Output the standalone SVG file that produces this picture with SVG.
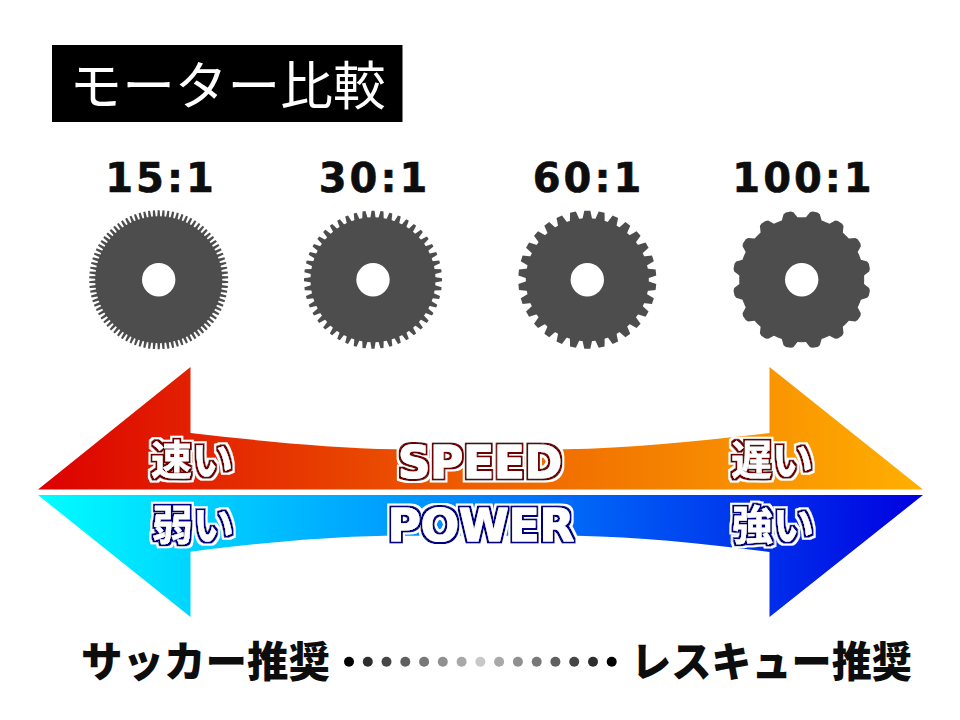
<svg xmlns="http://www.w3.org/2000/svg" width="960" height="720" viewBox="0 0 960 720">
<style>
text{font-family:"Noto Sans CJK JP","Noto Sans",sans-serif}
.ratio{font-family:"DejaVu Sans",sans-serif;font-weight:700;font-size:40px;fill:#0d0d0d;text-anchor:middle;letter-spacing:3px;stroke:#0d0d0d;stroke-width:.6px}
.body{fill:#4d4d4d}
.hole{fill:#fff}
.jp{font-weight:900;font-size:41.500px;fill:#0d0d0d}
.lab{font-weight:700;font-size:41px;fill:#fff;text-anchor:middle;stroke:#fff;stroke-width:.3px;stroke-linejoin:round}
.en{font-family:"DejaVu Sans",sans-serif;font-weight:700;font-size:45px;stroke-width:1.200px}
.red{filter:url(#haloRed)}
.blue{filter:url(#haloBlue)}
</style>
<defs>
<linearGradient id="gs" gradientUnits="userSpaceOnUse" x1="38" y1="0" x2="922" y2="0"><stop offset="0" stop-color="#dc0000"/><stop offset="0.5" stop-color="#ee6000"/><stop offset="1" stop-color="#ffb000"/></linearGradient>
<linearGradient id="gp" gradientUnits="userSpaceOnUse" x1="38" y1="0" x2="922" y2="0"><stop offset="0" stop-color="#00ffff"/><stop offset="0.5" stop-color="#0084ff"/><stop offset="1" stop-color="#0000e0"/></linearGradient>
<filter id="haloRed" x="-15%" y="-25%" width="130%" height="150%"><feMorphology in="SourceAlpha" operator="dilate" radius="1.800" result="d1"/><feFlood flood-color="#700000"/><feComposite in2="d1" operator="in" result="c1"/><feMorphology in="SourceAlpha" operator="dilate" radius="3.600" result="d2"/><feFlood flood-color="#fff"/><feComposite in2="d2" operator="in" result="c2"/><feMerge><feMergeNode in="c2"/><feMergeNode in="c1"/><feMergeNode in="SourceGraphic"/></feMerge></filter>
<filter id="haloBlue" x="-15%" y="-25%" width="130%" height="150%"><feMorphology in="SourceAlpha" operator="dilate" radius="1.800" result="d1"/><feFlood flood-color="#000080"/><feComposite in2="d1" operator="in" result="c1"/><feMorphology in="SourceAlpha" operator="dilate" radius="3.600" result="d2"/><feFlood flood-color="#fff"/><feComposite in2="d2" operator="in" result="c2"/><feMerge><feMergeNode in="c2"/><feMergeNode in="c1"/><feMergeNode in="SourceGraphic"/></feMerge></filter>
<polygon id="t1" class="body" points="-1.500,-62 -1,-69.500 1,-69.500 1.500,-62"/>
<polygon id="t2" class="body" points="-2.700,-61.500 -1.500,-69 1.500,-69 2.700,-61.500"/>
<polygon id="t3" class="body" points="-5,-60 -3,-69 3,-69 5,-60"/>
<polygon id="t4" class="body" points="-12.200,-61.300 -8,-62 -5,-67.800 -2.500,-69 2.500,-69 5,-67.800 8,-62 12.200,-61.300 12,-50 -12,-50"/>
<g id="s1"><use href="#t1"/><use href="#t1" transform="rotate(4)"/><use href="#t1" transform="rotate(8)"/><use href="#t1" transform="rotate(12)"/><use href="#t1" transform="rotate(16)"/></g>
<g id="s2"><use href="#t2"/><use href="#t2" transform="rotate(7.500)"/><use href="#t2" transform="rotate(15)"/><use href="#t2" transform="rotate(22.500)"/></g>
</defs>
<g id="title"><rect x="52" y="45" width="350.500" height="77" fill="#000"/><text x="69.500" y="105" font-size="52.700" fill="#fff">モーター比較</text></g>
<g id="gear-15"><text class="ratio" x="161" y="192">15:1</text>
<g transform="translate(158.700 279.700)"><circle class="body" r="63.500"/>
<use href="#s1"/><use href="#s1" transform="rotate(20)"/><use href="#s1" transform="rotate(40)"/><use href="#s1" transform="rotate(60)"/><use href="#s1" transform="rotate(80)"/><use href="#s1" transform="rotate(100)"/><use href="#s1" transform="rotate(120)"/><use href="#s1" transform="rotate(140)"/><use href="#s1" transform="rotate(160)"/><use href="#s1" transform="rotate(180)"/><use href="#s1" transform="rotate(200)"/><use href="#s1" transform="rotate(220)"/><use href="#s1" transform="rotate(240)"/><use href="#s1" transform="rotate(260)"/><use href="#s1" transform="rotate(280)"/><use href="#s1" transform="rotate(300)"/><use href="#s1" transform="rotate(320)"/><use href="#s1" transform="rotate(340)"/>
<circle class="hole" r="16.700"/></g></g>
<g id="gear-30"><text class="ratio" x="374.500" y="192">30:1</text>
<g transform="translate(373 279.700)"><circle class="body" r="62.500"/>
<use href="#s2"/><use href="#s2" transform="rotate(30)"/><use href="#s2" transform="rotate(60)"/><use href="#s2" transform="rotate(90)"/><use href="#s2" transform="rotate(120)"/><use href="#s2" transform="rotate(150)"/><use href="#s2" transform="rotate(180)"/><use href="#s2" transform="rotate(210)"/><use href="#s2" transform="rotate(240)"/><use href="#s2" transform="rotate(270)"/><use href="#s2" transform="rotate(300)"/><use href="#s2" transform="rotate(330)"/>
<circle class="hole" r="16.700"/></g></g>
<g id="gear-60"><text class="ratio" x="588.500" y="192">60:1</text>
<g transform="translate(587.300 279.700)"><circle class="body" r="61.500"/>
<use href="#t3"/><use href="#t3" transform="rotate(12)"/><use href="#t3" transform="rotate(24)"/><use href="#t3" transform="rotate(36)"/><use href="#t3" transform="rotate(48)"/><use href="#t3" transform="rotate(60)"/><use href="#t3" transform="rotate(72)"/><use href="#t3" transform="rotate(84)"/><use href="#t3" transform="rotate(96)"/><use href="#t3" transform="rotate(108)"/><use href="#t3" transform="rotate(120)"/><use href="#t3" transform="rotate(132)"/><use href="#t3" transform="rotate(144)"/><use href="#t3" transform="rotate(156)"/><use href="#t3" transform="rotate(168)"/><use href="#t3" transform="rotate(180)"/><use href="#t3" transform="rotate(192)"/><use href="#t3" transform="rotate(204)"/><use href="#t3" transform="rotate(216)"/><use href="#t3" transform="rotate(228)"/><use href="#t3" transform="rotate(240)"/><use href="#t3" transform="rotate(252)"/><use href="#t3" transform="rotate(264)"/><use href="#t3" transform="rotate(276)"/><use href="#t3" transform="rotate(288)"/><use href="#t3" transform="rotate(300)"/><use href="#t3" transform="rotate(312)"/><use href="#t3" transform="rotate(324)"/><use href="#t3" transform="rotate(336)"/><use href="#t3" transform="rotate(348)"/>
<circle class="hole" r="16.700"/></g></g>
<g id="gear-100"><text class="ratio" x="803.500" y="192">100:1</text>
<g transform="translate(801.700 279.700)"><circle class="body" r="58"/>
<use href="#t4" transform="rotate(11.250)"/><use href="#t4" transform="rotate(33.750)"/><use href="#t4" transform="rotate(56.250)"/><use href="#t4" transform="rotate(78.750)"/><use href="#t4" transform="rotate(101.250)"/><use href="#t4" transform="rotate(123.750)"/><use href="#t4" transform="rotate(146.250)"/><use href="#t4" transform="rotate(168.750)"/><use href="#t4" transform="rotate(191.250)"/><use href="#t4" transform="rotate(213.750)"/><use href="#t4" transform="rotate(236.250)"/><use href="#t4" transform="rotate(258.750)"/><use href="#t4" transform="rotate(281.250)"/><use href="#t4" transform="rotate(303.750)"/><use href="#t4" transform="rotate(326.250)"/><use href="#t4" transform="rotate(348.750)"/>
<circle class="hole" r="16.700"/></g></g>
<g id="connectors">
<path id="speed-arrow" fill="url(#gs)" d="M38,489.500 L190.500,367 V433 C260,441 330,448 395,449.300 H565 C630,448 700,441 769.500,433 V367 L923,489.500 Z"/>
<path id="power-arrow" fill="url(#gp)" d="M38,495 L190.500,617 V551.700 C260,543 320,537 385,535.700 H577 C640,537 700,543 769.500,552 V617 L923,495 Z"/>
</g>
<g id="speed-labels">
<text class="lab red" x="192" y="475">速い</text>
<text class="lab red en" x="480" y="478">SPEED</text>
<text class="lab red" x="772" y="475">遅い</text>
</g>
<g id="power-labels">
<text class="lab blue" x="193" y="540">弱い</text>
<text class="lab blue en" x="481" y="541">POWER</text>
<text class="lab blue" x="773" y="540">強い</text>
</g>
<g id="recommend">
<text class="jp" x="81" y="677">サッカー推奨</text>
<text class="jp" x="631" y="677" textLength="281" lengthAdjust="spacingAndGlyphs">レスキュー推奨</text>
</g>
<g id="dots">
<circle cx="349" cy="661.700" r="5" fill="#000"/><circle cx="367.800" cy="661.700" r="5" fill="#2e2e2e"/><circle cx="386.500" cy="661.700" r="5" fill="#464646"/><circle cx="405.300" cy="661.700" r="5" fill="#5f5f5f"/><circle cx="424.100" cy="661.700" r="5" fill="#787878"/><circle cx="442.800" cy="661.700" r="5" fill="#909090"/><circle cx="461.600" cy="661.700" r="5" fill="#a8a8a8"/><circle cx="480.400" cy="661.700" r="5" fill="#c8c8c8"/><circle cx="499.100" cy="661.700" r="5" fill="#a8a8a8"/><circle cx="517.900" cy="661.700" r="5" fill="#909090"/><circle cx="536.700" cy="661.700" r="5" fill="#787878"/><circle cx="555.400" cy="661.700" r="5" fill="#5f5f5f"/><circle cx="574.200" cy="661.700" r="5" fill="#464646"/><circle cx="593" cy="661.700" r="5" fill="#2e2e2e"/><circle cx="611.700" cy="661.700" r="5" fill="#000"/>
</g>
</svg>
